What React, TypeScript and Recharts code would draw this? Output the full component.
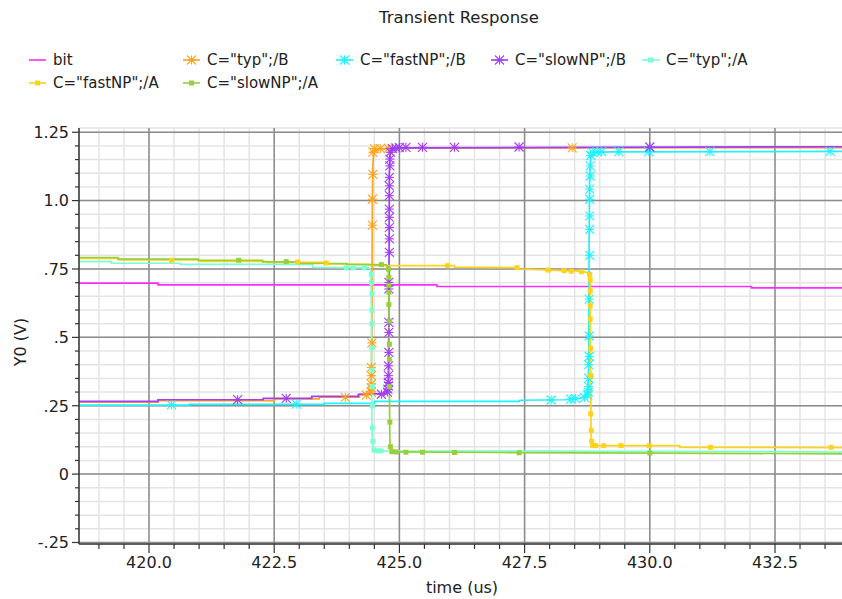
import React from 'react';
import {
  ComposedChart,
  Line,
  Scatter,
  XAxis,
  YAxis,
  CartesianGrid,
  ReferenceLine,
} from 'recharts';

type Pt = [number, number];

// ---- waveform vertices (time in us, voltage in V) ----
const bitPath: Pt[] = [
  [418.55, 0.698], [420.18, 0.698], [420.18, 0.692], [425.75, 0.692],
  [425.75, 0.686], [432.03, 0.686], [432.03, 0.681], [434.0, 0.681],
];

const typBPath: Pt[] = [
  [418.55, 0.263], [420.18, 0.263], [420.18, 0.269], [422.5, 0.269], [422.5, 0.275],
  [423.4, 0.275], [423.4, 0.281], [424.2, 0.281], [424.2, 0.289], [424.4, 0.292],
  [424.43, 0.31], [424.44, 0.36], [424.45, 0.5], [424.46, 1.0], [424.47, 1.13],
  [424.49, 1.175], [424.55, 1.188], [425.0, 1.192], [434.0, 1.194],
];
const typBMarks: Pt[] = [
  [423.92, 0.281], [424.34, 0.289], [424.44, 0.3], [424.44, 0.315], [424.44, 0.33],
  [424.44, 0.36], [424.44, 0.39], [424.45, 0.48], [424.46, 0.91], [424.46, 1.005],
  [424.47, 1.096], [424.47, 1.177], [424.5, 1.19], [424.62, 1.19], [424.78, 1.191],
  [428.45, 1.193],
];

const fastBPath: Pt[] = [
  [418.55, 0.252], [420.8, 0.252], [420.8, 0.255], [423.5, 0.255], [423.5, 0.259],
  [424.5, 0.259], [424.5, 0.266], [427.4, 0.266], [427.4, 0.27], [428.3, 0.272],
  [428.6, 0.277], [428.72, 0.285], [428.76, 0.31], [428.78, 0.4], [428.79, 0.9],
  [428.8, 1.1], [428.82, 1.16], [428.9, 1.175], [429.2, 1.178], [434.0, 1.18],
];
const fastBMarks: Pt[] = [
  [420.45, 0.253], [422.94, 0.256], [428.03, 0.271], [428.42, 0.274], [428.52, 0.276],
  [428.7, 0.28], [428.76, 0.29], [428.77, 0.3], [428.78, 0.32], [428.78, 0.35],
  [428.78, 0.4], [428.79, 0.43], [428.79, 0.505], [428.79, 0.64], [428.8, 0.8],
  [428.8, 0.895], [428.8, 0.944], [428.8, 1.005], [428.8, 1.042], [428.81, 1.09],
  [428.81, 1.127], [428.82, 1.165], [428.85, 1.177], [428.95, 1.178], [429.04, 1.179],
  [429.38, 1.179], [429.98, 1.179], [431.2, 1.179], [433.6, 1.18],
];

const slowBPath: Pt[] = [
  [418.55, 0.266], [420.18, 0.266], [420.18, 0.272], [422.28, 0.272], [422.28, 0.277],
  [423.25, 0.277], [423.25, 0.284], [424.18, 0.284], [424.18, 0.292], [424.74, 0.294],
  [424.77, 0.31], [424.78, 0.36], [424.79, 0.6], [424.8, 1.1], [424.81, 1.165],
  [424.85, 1.185], [425.0, 1.193], [434.0, 1.197],
];
const slowBMarks: Pt[] = [
  [421.77, 0.272], [422.74, 0.277], [424.64, 0.292], [424.76, 0.3], [424.77, 0.311],
  [424.78, 0.323], [424.78, 0.335], [424.78, 0.36], [424.78, 0.396], [424.79, 0.445],
  [424.79, 0.518], [424.79, 0.555], [424.79, 0.677], [424.79, 0.701], [424.8, 0.811],
  [424.8, 0.86], [424.8, 0.902], [424.8, 0.939], [424.8, 0.969], [424.8, 1.018],
  [424.8, 1.054], [424.8, 1.085], [424.81, 1.127], [424.81, 1.152], [424.82, 1.177],
  [424.86, 1.19], [424.93, 1.193], [425.0, 1.194], [425.13, 1.195], [425.46, 1.195],
  [426.1, 1.195], [427.39, 1.196], [430.0, 1.196],
];

const typAPath: Pt[] = [
  [418.55, 0.777], [419.25, 0.777], [419.25, 0.771], [420.62, 0.771], [420.62, 0.767],
  [423.27, 0.767], [423.27, 0.756], [424.38, 0.754], [424.43, 0.745], [424.44, 0.6],
  [424.45, 0.2], [424.46, 0.11], [424.48, 0.088], [424.6, 0.085], [427.6, 0.084],
  [432.5, 0.082], [434.0, 0.08],
];
const typAMarks: Pt[] = [
  [423.94, 0.754], [424.08, 0.754], [424.3, 0.754], [424.44, 0.73], [424.44, 0.7],
  [424.45, 0.66], [424.45, 0.6], [424.45, 0.55], [424.45, 0.46], [424.45, 0.38],
  [424.46, 0.32], [424.46, 0.25], [424.46, 0.17], [424.47, 0.12], [424.49, 0.088],
  [424.55, 0.085], [424.63, 0.085],
];

const fastAPath: Pt[] = [
  [418.55, 0.789], [419.4, 0.789], [419.4, 0.783], [421.0, 0.783], [421.0, 0.778],
  [422.35, 0.778], [422.35, 0.774], [423.55, 0.774], [423.55, 0.769], [424.4, 0.767],
  [424.5, 0.762], [426.1, 0.762], [426.1, 0.757], [427.35, 0.755], [427.4, 0.75],
  [428.0, 0.746], [428.6, 0.742], [428.76, 0.737], [428.81, 0.7], [428.82, 0.3],
  [428.83, 0.12], [428.86, 0.104], [430.6, 0.104], [430.6, 0.098], [434.0, 0.097],
];
const fastAMarks: Pt[] = [
  [420.45, 0.782], [422.97, 0.776], [423.54, 0.772], [425.96, 0.762], [427.35, 0.755],
  [427.97, 0.746], [428.29, 0.744], [428.43, 0.742], [428.63, 0.74], [428.8, 0.73],
  [428.81, 0.71], [428.81, 0.67], [428.81, 0.615], [428.81, 0.567], [428.82, 0.46],
  [428.82, 0.36], [428.82, 0.22], [428.83, 0.16], [428.84, 0.12], [428.86, 0.104],
  [428.92, 0.104], [429.08, 0.104], [429.42, 0.104], [429.99, 0.104], [431.21, 0.098],
  [433.62, 0.098],
];

const slowAPath: Pt[] = [
  [418.55, 0.792], [419.38, 0.792], [419.38, 0.786], [420.98, 0.786], [420.98, 0.782],
  [422.27, 0.782], [422.27, 0.776], [423.0, 0.776], [423.0, 0.77], [423.95, 0.77],
  [423.95, 0.767], [424.74, 0.765], [424.78, 0.755], [424.79, 0.66], [424.8, 0.3],
  [424.81, 0.12], [424.83, 0.085], [424.9, 0.081], [427.0, 0.079], [430.0, 0.077],
  [434.0, 0.074],
];
const slowAMarks: Pt[] = [
  [421.79, 0.782], [422.74, 0.777], [424.64, 0.766], [424.78, 0.75], [424.79, 0.72],
  [424.79, 0.69], [424.79, 0.665], [424.79, 0.62], [424.8, 0.56], [424.8, 0.475],
  [424.8, 0.42], [424.8, 0.32], [424.81, 0.19], [424.82, 0.1], [424.85, 0.082],
  [424.93, 0.081], [425.13, 0.08], [425.46, 0.08], [426.1, 0.079], [427.39, 0.078],
  [430.0, 0.077],
];

// ---- axes ----
const xDomain: Pt = [418.602, 433.918];
const yDomain: Pt = [-0.2555, 1.2655];
const xMajorTicks = [420, 422.5, 425, 427.5, 430, 432.5];
const xTickLabels = ['420.0', '422.5', '425.0', '427.5', '430.0', '432.5'];
const yMajorTicks = [-0.25, 0, 0.25, 0.5, 0.75, 1.0, 1.25];
const yTickLabels = ['-.25', '0', '.25', '.5', '.75', '1.0', '1.25'];
const xMinorStep = 0.5;
const yMinorStep = 0.05;

const steps = (from: number, to: number, step: number) => {
  const out: number[] = [];
  const n = Math.round((to - from) / step);
  for (let i = 0; i <= n; i++) out.push(Math.round((from + i * step) * 1000) / 1000);
  return out;
};
const xAllTicks = steps(419, 433.5, xMinorStep);
const yAllTicks = steps(-0.25, 1.25, yMinorStep);

type MarkerKind = 'none' | 'star' | 'square';
interface Series {
  name: string;
  color: string;
  path: Pt[];
  marks: Pt[];
  marker: MarkerKind;
}

const series: Series[] = [
  { name: 'bit', color: '#ff2cff', path: bitPath, marks: [], marker: 'none' },
  { name: 'C="typ";/B', color: '#ffa41c', path: typBPath, marks: typBMarks, marker: 'star' },
  { name: 'C="fastNP";/B', color: '#1ff2ff', path: fastBPath, marks: fastBMarks, marker: 'star' },
  { name: 'C="slowNP";/B', color: '#a23cf5', path: slowBPath, marks: slowBMarks, marker: 'star' },
  { name: 'C="typ";/A', color: '#7dffd4', path: typAPath, marks: typAMarks, marker: 'square' },
  { name: 'C="fastNP";/A', color: '#ffd21c', path: fastAPath, marks: fastAMarks, marker: 'square' },
  { name: 'C="slowNP";/A', color: '#96d03a', path: slowAPath, marks: slowAMarks, marker: 'square' },
];

// legend layout: [series index, icon left, row center]
const legendSlots: [number, number, number][] = [
  [0, 29, 60], [1, 183, 60], [2, 336, 60], [3, 491, 60], [4, 642, 60],
  [5, 29, 83], [6, 183, 83],
];

const FONT = '"DejaVu Sans", "Noto Sans", sans-serif';
const toRows = (pts: Pt[]) => pts.map(([t, v]) => ({ t, v }));

const markerGlyph = (kind: MarkerKind, color: string, cx: number, cy: number, r = 4.5) => {
  if (kind === 'star') {
    return (
      <g stroke={color} strokeWidth={1.1} fill="none">
        <line x1={cx - r} y1={cy - r} x2={cx + r} y2={cy + r} />
        <line x1={cx - r} y1={cy + r} x2={cx + r} y2={cy - r} />
        <line x1={cx} y1={cy - r} x2={cx} y2={cy + r} />
        <line x1={cx - r} y1={cy} x2={cx + r} y2={cy} />
      </g>
    );
  }
  if (kind === 'square') {
    return <rect x={cx - 2.5} y={cy - 2.5} width={5} height={5} fill={color} />;
  }
  return <g />;
};

const makeShape = (s: Series) => (props: any) => {
  const { cx, cy } = props;
  if (cx == null || cy == null) return <g />;
  return markerGlyph(s.marker, s.color, cx, cy);
};

const YTick = (props: any) => {
  const { x, y, payload } = props;
  const idx = yMajorTicks.findIndex((v) => Math.abs(v - payload.value) < 1e-6);
  const major = idx >= 0;
  return (
    <g>
      <line x1={x - (major ? 7 : 4)} x2={x} y1={y} y2={y} stroke="#333" strokeWidth={1.2} />
      {major && (
        <text x={x - 10} y={y} dy="0.36em" textAnchor="end" fontFamily={FONT} fontSize={16} fill="#222">
          {yTickLabels[idx]}
        </text>
      )}
    </g>
  );
};

const XTick = (props: any) => {
  const { x, y, payload } = props;
  const idx = xMajorTicks.findIndex((v) => Math.abs(v - payload.value) < 1e-6);
  const major = idx >= 0;
  return (
    <g>
      <line x1={x} x2={x} y1={y} y2={y + (major ? 9 : 5)} stroke="#333" strokeWidth={1.2} />
      {major && (
        <text x={x} y={y + 24} textAnchor="middle" fontFamily={FONT} fontSize={16} fill="#222">
          {xTickLabels[idx]}
        </text>
      )}
    </g>
  );
};

const LegendIcon = ({ s }: { s: Series }) => (
  <svg width={17} height={12} style={{ display: 'block' }}>
    <line x1={0} y1={6} x2={17} y2={6} stroke={s.color} strokeWidth={1.6} />
    {markerGlyph(s.marker, s.color, 8.5, 6, 4.5)}
  </svg>
);

export default function App() {
  return (
    <div
      style={{
        position: 'absolute',
        left: 0,
        top: 0,
        width: 842,
        height: 599,
        overflow: 'hidden',
        background: '#fff',
        fontFamily: FONT,
        color: '#222',
      }}
    >
      <div
        style={{
          position: 'absolute',
          left: 459,
          top: 17,
          transform: 'translate(-50%, -50%)',
          fontSize: 16.5,
          whiteSpace: 'nowrap',
        }}
      >
        Transient Response
      </div>

      {legendSlots.map(([i, left, cy]) => (
        <div
          key={series[i].name}
          style={{
            position: 'absolute',
            left,
            top: cy - 10,
            height: 20,
            display: 'flex',
            alignItems: 'center',
            whiteSpace: 'nowrap',
            fontSize: 15,
          }}
        >
          <LegendIcon s={series[i]} />
          <span style={{ marginLeft: 7 }}>{series[i].name}</span>
        </div>
      ))}

      <div
        style={{
          position: 'absolute',
          left: 20,
          top: 342,
          transform: 'translate(-50%, -50%) rotate(-90deg)',
          fontSize: 16,
          whiteSpace: 'nowrap',
        }}
      >
        Y0 (V)
      </div>
      <div
        style={{
          position: 'absolute',
          left: 462,
          top: 587,
          transform: 'translate(-50%, -50%)',
          fontSize: 16,
          whiteSpace: 'nowrap',
        }}
      >
        time (us)
      </div>

      <div style={{ position: 'absolute', left: 0, top: 0 }}>
        <ComposedChart
          width={846}
          height={599}
          margin={{ top: 128, right: 0, bottom: 0, left: 0 }}
        >
          <CartesianGrid stroke="#e4e4e4" strokeWidth={1.5} />
          <XAxis
            xAxisId={0}
            type="number"
            dataKey="t"
            domain={xDomain}
            allowDataOverflow
            ticks={xAllTicks}
            interval={0}
            height={55}
            tickSize={0}
            tickMargin={0}
            tickLine={false}
            tick={<XTick />}
            axisLine={{ stroke: '#333', strokeWidth: 1.5 }}
          />
          <XAxis
            xAxisId="top"
            orientation="top"
            type="number"
            domain={xDomain}
            allowDataOverflow
            height={0}
            tick={false}
            tickLine={false}
            axisLine={{ stroke: '#444', strokeWidth: 1.5 }}
          />
          <YAxis
            type="number"
            dataKey="v"
            domain={yDomain}
            allowDataOverflow
            ticks={yAllTicks}
            interval={0}
            width={79}
            tickSize={0}
            tickMargin={0}
            tickLine={false}
            tick={<YTick />}
            axisLine={{ stroke: '#333', strokeWidth: 1.5 }}
          />

          {xMajorTicks.map((v) => (
            <ReferenceLine key={`gx${v}`} x={v} stroke="#8c8c8c" strokeWidth={1.5} />
          ))}
          {yMajorTicks.map((v) => (
            <ReferenceLine key={`gy${v}`} y={v} stroke="#8c8c8c" strokeWidth={1.5} />
          ))}

          {series.map((s) => (
            <Line
              key={`l-${s.name}`}
              data={toRows(s.path)}
              dataKey="v"
              type="linear"
              stroke={s.color}
              strokeWidth={1.7}
              dot={false}
              activeDot={false}
              isAnimationActive={false}
            />
          ))}
          {series
            .filter((s) => s.marks.length > 0)
            .map((s) => (
              <Scatter
                key={`m-${s.name}`}
                data={toRows(s.marks)}
                dataKey="v"
                fill={s.color}
                shape={makeShape(s)}
                isAnimationActive={false}
              />
            ))}
        </ComposedChart>
      </div>
    </div>
  );
}
